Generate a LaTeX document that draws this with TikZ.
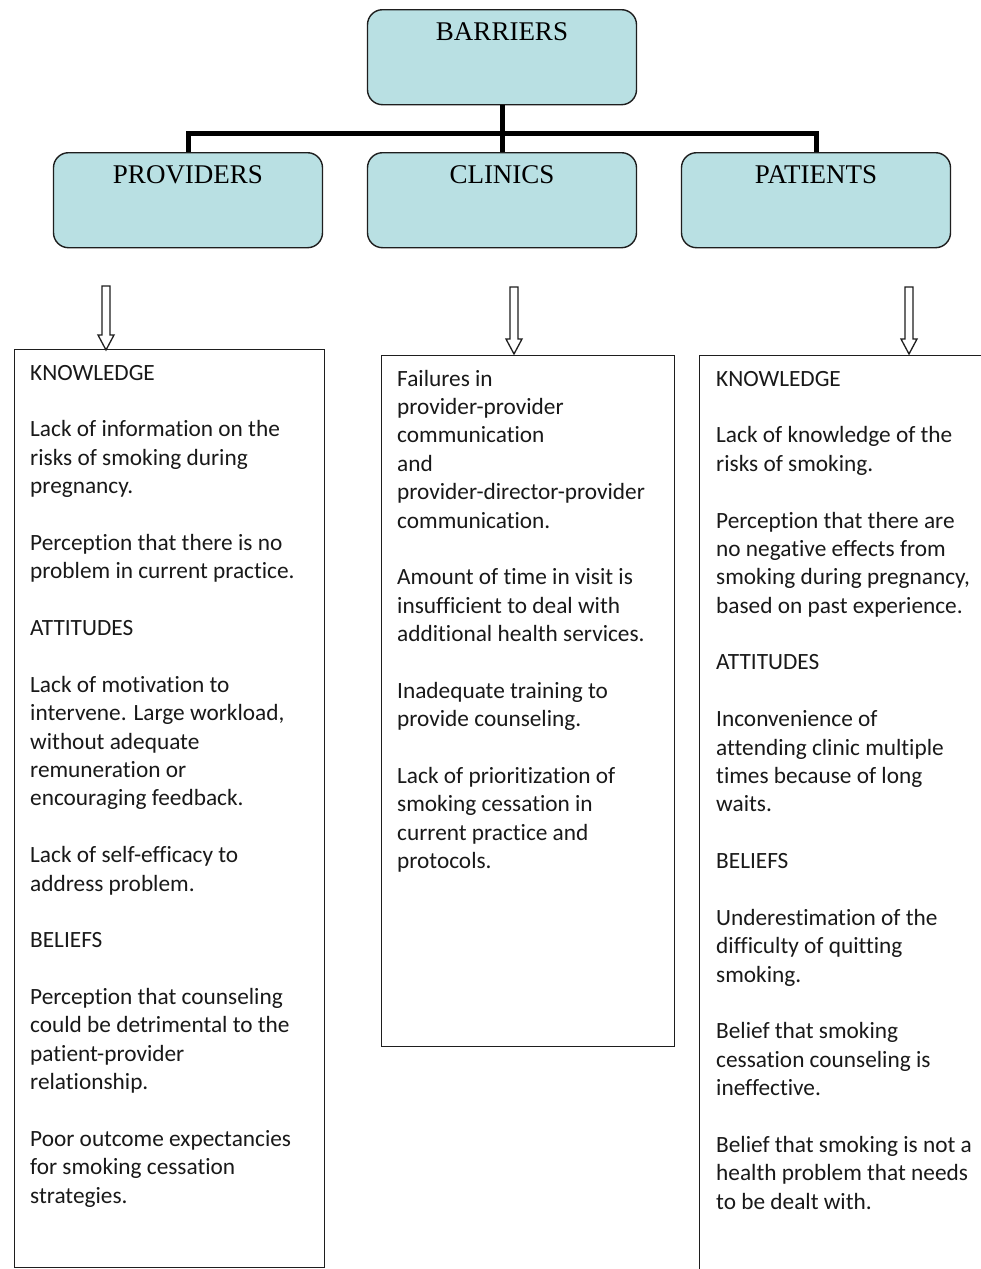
\documentclass[tikz,border=0pt]{standalone}
\usepackage{fontspec}
\setmainfont[Ligatures=NoCommon]{Carlito}
\newfontfamily\hdfont{Liberation Serif}
\definecolor{hdfill}{RGB}{185,224,227}
\definecolor{edge}{RGB}{30,30,30}
\begin{document}
\begin{tikzpicture}[x=1pt,y=-1pt,
  hdbox/.style={draw=edge, line width=1.4pt, fill=hdfill, rounded corners=15pt,
    minimum width=269pt, inner ysep=0pt, inner xsep=0pt, text height=31pt, text depth=64pt,
    font=\hdfont\fontsize{27pt}{30pt}\selectfont, anchor=north},
  tbox/.style={draw=edge, line width=1.3pt, anchor=north west, inner sep=0pt},
  btext/.style={anchor=north west, inner sep=0pt, align=left, text=black!90,
    font=\fontsize{23.3pt}{28.38pt}\selectfont},
  tree/.style={line width=5pt, line join=miter},
  blockarrow/.style={draw=edge, line width=1.3pt, fill=white, line join=miter}
]
\useasboundingbox (0,0) rectangle (980,1269);
\fill[white] (0,0) rectangle (980,1269);

% header boxes
\node[hdbox] (bar) at (502,9) {BARRIERS};
\node[hdbox] (prov) at (188,152) {PROVIDERS};
\node[hdbox] (cli) at (502,152) {CLINICS};
\node[hdbox] (pat) at (816,152) {PATIENTS};

% tree connector
\coordinate (j) at (502,133);
\draw[tree] (bar.south) -- (cli.north);
\draw[tree] (prov.north) |- (j) -| (pat.north);

% text boxes
\node[tbox, minimum width=310pt, minimum height=918pt] (provbox) at (14,349) {};
\node[tbox, minimum width=293pt, minimum height=691pt] (clibox) at (381,355) {};
\node[tbox, minimum width=320pt, minimum height=940pt] (patbox) at (699,355) {};

% block arrows
\coordinate (a1) at (106,350);
\coordinate (a2) at (514,354);
\coordinate (a3) at (909,354);
\draw[blockarrow, shift={(a1)}] (-4,-64) -- (4,-64) -- (4,-15) -- (8,-15) -- (0,0) -- (-8,-15) -- (-4,-15) -- cycle;
\draw[blockarrow, shift={(a2)}] (-4,-67) -- (4,-67) -- (4,-15) -- (8,-15) -- (0,0) -- (-8,-15) -- (-4,-15) -- cycle;
\draw[blockarrow, shift={(a3)}] (-4,-67) -- (4,-67) -- (4,-15) -- (8,-15) -- (0,0) -- (-8,-15) -- (-4,-15) -- cycle;

% texts
\node[btext] (provtxt) at (30,360.1) {\strut KNOWLEDGE\\[28.38pt]
Lack of information on the\\
risks of smoking during\\
pregnancy.\\[28.38pt]
Perception that there is no\\
problem in current practice.\\[28.38pt]
ATTITUDES\\[28.38pt]
Lack of motivation to\\
intervene. Large workload,\\
without adequate\\
remuneration or\\
encouraging feedback.\\[28.38pt]
Lack of self-efficacy to\\
address problem.\\[28.38pt]
BELIEFS\\[28.38pt]
Perception that counseling\\
could be detrimental to the\\
patient-provider\\
relationship.\\[28.38pt]
Poor outcome expectancies\\
for smoking cessation\\
strategies.};

\node[btext] (clitxt) at (397,366.1) {\strut Failures in\\
provider-provider\\
communication\\
and\\
provider-director-provider\\
communication.\\[28.38pt]
Amount of time in visit is\\
insufficient to deal with\\
additional health services.\\[28.38pt]
Inadequate training to\\
provide counseling.\\[28.38pt]
Lack of prioritization of\\
smoking cessation in\\
current practice and\\
protocols.};

\node[btext] (pattxt) at (716,366.1) {\strut KNOWLEDGE\\[28.38pt]
Lack of knowledge of the\\
risks of smoking.\\[28.38pt]
Perception that there are\\
no negative effects from\\
smoking during pregnancy,\\
based on past experience.\\[28.38pt]
ATTITUDES\\[28.38pt]
Inconvenience of\\
attending clinic multiple\\
times because of long\\
waits.\\[28.38pt]
BELIEFS\\[28.38pt]
Underestimation of the\\
difficulty of quitting\\
smoking.\\[28.38pt]
Belief that smoking\\
cessation counseling is\\
ineffective.\\[28.38pt]
Belief that smoking is not a\\
health problem that needs\\
to be dealt with.};
\end{tikzpicture}
\end{document}
